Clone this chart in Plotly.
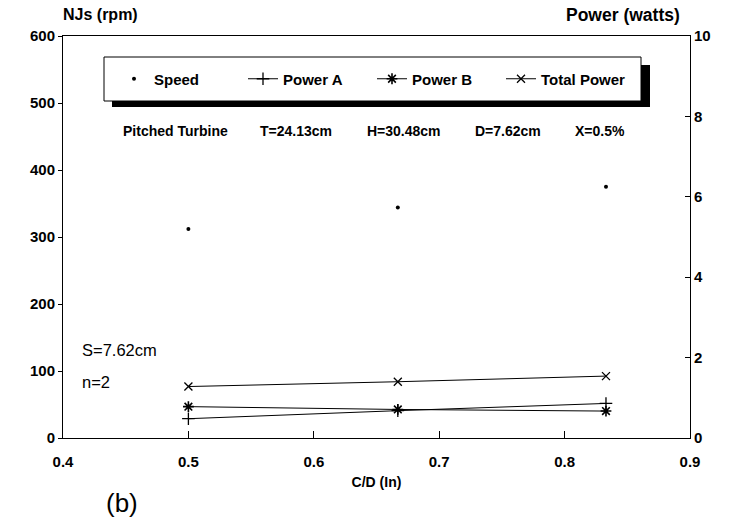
import plotly.graph_objects as go

# ---- data ----
cd = [0.5, 0.667, 0.833]
speed = [312, 344, 375]          # rpm (left axis)
power_a = [0.48, 0.68, 0.86]     # watts (right axis)
power_b = [0.78, 0.71, 0.67]
total_power = [1.28, 1.40, 1.54]

x_ticks = [0.4, 0.5, 0.6, 0.7, 0.8, 0.9]
y_ticks = [0, 100, 200, 300, 400, 500, 600]
y2_ticks = [0, 2, 4, 6, 8, 10]

subtitle_parts = ["Pitched Turbine", "T=24.13cm", "H=30.48cm", "D=7.62cm", "X=0.5%"]

FONT = "Liberation Sans, Arial, sans-serif"

fig = go.Figure()
fig.add_trace(go.Scatter(x=cd, y=speed, mode="markers", name="Speed",
                         marker=dict(symbol="circle", size=4, color="black"),
                         yaxis="y"))
fig.add_trace(go.Scatter(x=cd, y=power_a, mode="lines+markers", name="Power A",
                         line=dict(color="black", width=1),
                         marker=dict(symbol="cross-thin", size=9,
                                     line=dict(color="black", width=1.3)),
                         yaxis="y2"))
fig.add_trace(go.Scatter(x=cd, y=power_b, mode="lines+markers", name="Power B",
                         line=dict(color="black", width=1),
                         marker=dict(symbol="asterisk", size=9,
                                     line=dict(color="black", width=1.6)),
                         yaxis="y2"))
fig.add_trace(go.Scatter(x=cd, y=total_power, mode="lines+markers", name="Total Power",
                         line=dict(color="black", width=1),
                         marker=dict(symbol="x-thin", size=8,
                                     line=dict(color="black", width=1.3)),
                         yaxis="y2"))

tickfont = dict(family=FONT, size=15, color="black", weight="bold")

fig.update_layout(
    width=729, height=521,
    margin=dict(l=63, r=39, t=36, b=83),
    paper_bgcolor="white", plot_bgcolor="white",
    font=dict(family=FONT, color="black"),
    showlegend=True,
    legend=dict(orientation="h", x=(114 - 63) / 627, xanchor="left", y=0.893, yanchor="middle",
                bgcolor="rgba(0,0,0,0)", borderwidth=0,
                font=dict(family=FONT, size=15, color="black", weight="bold"),
                entrywidth=84, entrywidthmode="pixels", itemwidth=30),
    xaxis=dict(range=[0.4, 0.9], tickvals=x_ticks, ticktext=[f"{v:.1f}" for v in x_ticks],
               showgrid=False, zeroline=False, showline=True, linecolor="black", linewidth=1,
               mirror=True, ticks="inside", ticklen=7, tickcolor="black",
               tickfont=tickfont, ticklabelstandoff=10,
               title=dict(text="C/D (In)", font=dict(family=FONT, size=14, weight="bold"),
                          standoff=8)),
    yaxis=dict(range=[0, 600], tickvals=y_ticks, showgrid=False, zeroline=False,
               showline=True, linecolor="black", linewidth=1,
               ticks="outside", ticklen=4, tickcolor="black", tickfont=tickfont),
    yaxis2=dict(range=[0, 10], tickvals=y2_ticks, overlaying="y", side="right",
                showgrid=False, zeroline=False, showline=True, linecolor="black",
                linewidth=1, ticks="inside", ticklen=5, tickcolor="black",
                tickfont=tickfont),
)

# legend box with drop shadow
fig.add_shape(type="rect", xref="paper", yref="paper",
              x0=(112 - 63) / 627, x1=(650 - 63) / 627,
              y0=(438 - 107) / 402, y1=(438 - 65) / 402,
              fillcolor="black", line=dict(width=0), layer="above")
fig.add_shape(type="rect", xref="paper", yref="paper",
              x0=(104 - 63) / 627, x1=(641 - 63) / 627,
              y0=(438 - 101) / 402, y1=(438 - 57) / 402,
              fillcolor="white", line=dict(color="black", width=1), layer="above")

ann_font = dict(family=FONT, size=14, color="black", weight="bold")
for part, px in zip(subtitle_parts, [121, 258, 365, 473, 573]):
    fig.add_annotation(xref="paper", yref="paper", x=(px - 63) / 627, y=(438 - 131) / 402,
                       text=part, showarrow=False, font=ann_font,
                       xanchor="left", yanchor="middle")
fig.add_annotation(xref="paper", yref="paper", x=(80 - 63) / 627, y=(438 - 350) / 402,
                   text="S=7.62cm", showarrow=False, xanchor="left", yanchor="middle",
                   font=dict(family=FONT, size=16.5, color="black"))
fig.add_annotation(xref="paper", yref="paper", x=(80 - 63) / 627, y=(438 - 382) / 402,
                   text="n=2", showarrow=False, xanchor="left", yanchor="middle",
                   font=dict(family=FONT, size=16.5, color="black"))
fig.add_annotation(xref="paper", yref="paper", x=(61 - 63) / 627, y=(438 - 15) / 402,
                   text="NJs (rpm)", showarrow=False, xanchor="left", yanchor="middle",
                   font=dict(family=FONT, size=16, color="black", weight="bold"))
fig.add_annotation(xref="paper", yref="paper", x=(623 - 63) / 627, y=(438 - 15) / 402,
                   text="Power (watts)", showarrow=False, xanchor="center", yanchor="middle",
                   font=dict(family=FONT, size=17.5, color="black", weight="bold"))
fig.add_annotation(xref="paper", yref="paper", x=(122 - 63) / 627, y=(438 - 503) / 402,
                   text="(b)", showarrow=False, xanchor="center", yanchor="middle",
                   font=dict(family=FONT, size=26, color="black"))

fig.write_html("out.html")
